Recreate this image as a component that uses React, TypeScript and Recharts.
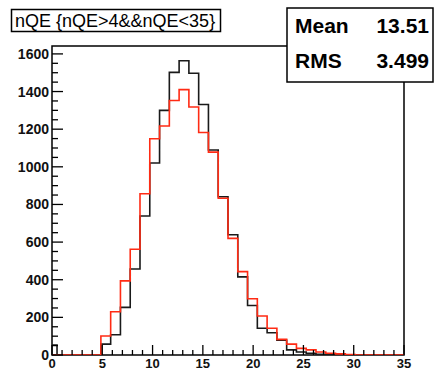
import React from 'react';
import { LineChart, Line, XAxis, YAxis, ReferenceArea } from 'recharts';

const X_MIN = 0;
const X_MAX = 35;
const N_BINS = 36;
const Y_MAX = 1642;
const FIRST_BIN = 5;

// bin contents starting at bin index FIRST_BIN
const blackCounts = [58, 108, 253, 457, 739, 1020, 1300, 1502, 1564, 1497, 1331, 1089, 841, 639, 415, 263, 142, 118, 78, 27, 16, 9, 4, 2, 1];
const redCounts = [101, 230, 394, 562, 857, 1149, 1217, 1352, 1410, 1318, 1182, 1078, 833, 620, 443, 299, 207, 142, 83, 58, 35, 27, 16, 9, 6, 3];
const blackSpike = { from: 0, to: 0.5, count: 53 };

const xTicks = [0, 1, 2, 3, 4, 5, 6, 7, 8, 9, 10, 11, 12, 13, 14, 15, 16, 17, 18, 19, 20, 21, 22, 23, 24, 25, 26, 27, 28, 29, 30, 31, 32, 33, 34, 35];
const xLabels = [0, 5, 10, 15, 20, 25, 30, 35];
const yTicks = [0, 50, 100, 150, 200, 250, 300, 350, 400, 450, 500, 550, 600, 650, 700, 750, 800, 850, 900, 950, 1000, 1050, 1100, 1150, 1200, 1250, 1300, 1350, 1400, 1450, 1500, 1550, 1600];
const yLabels = [0, 200, 400, 600, 800, 1000, 1200, 1400, 1600];

const title = 'nQE {nQE>4&&nQE<35}';
const statNames = ['Mean', 'RMS'];
const statValues = ['13.51', '3.499'];

const binWidth = (X_MAX - X_MIN) / N_BINS;

function histPoints(counts: number[], start: number, lead: { x: number; y: number }[]) {
  const pts = [...lead];
  counts.forEach((c, i) => pts.push({ x: X_MIN + (start + i) * binWidth, y: c }));
  pts.push({ x: X_MIN + (start + counts.length) * binWidth, y: 0 });
  pts.push({ x: X_MAX, y: 0 });
  return pts;
}

const blackData = histPoints(blackCounts, FIRST_BIN, [
  { x: blackSpike.from, y: blackSpike.count },
  { x: blackSpike.to, y: 0 },
]);
const redData = histPoints(redCounts, FIRST_BIN, [{ x: X_MIN, y: 0 }]);

const FONT = '"Liberation Sans", Arial, sans-serif';

const YTick = (props: any) => {
  const { x, y, payload } = props;
  const major = yLabels.includes(payload.value);
  return (
    <g>
      <line x1={x} x2={x + (major ? 11 : 6)} y1={y} y2={y} stroke="#000" strokeWidth={1.3} />
      {major && (
        <text x={x - 3} y={y} textAnchor="end" dominantBaseline="central" fontFamily={FONT} fontSize={14} fontWeight="bold" fill="#111">
          {payload.value}
        </text>
      )}
    </g>
  );
};

const XTick = (props: any) => {
  const { x, y, payload } = props;
  const major = xLabels.includes(payload.value);
  return (
    <g>
      <line x1={x} x2={x} y1={y} y2={y - (major ? 10 : 5)} stroke="#000" strokeWidth={1.3} />
      {major && (
        <text x={x} y={y + 8.5} textAnchor="middle" dominantBaseline="central" fontFamily={FONT} fontSize={13} fontWeight="bold" fill="#111">
          {payload.value}
        </text>
      )}
    </g>
  );
};

export default function App() {
  return (
    <div style={{ position: 'absolute', left: 0, top: 0, width: 434, height: 370, background: '#fff' }}>
      <LineChart width={434} height={370} margin={{ top: 46, right: 30, bottom: 0, left: 0 }}>
        <XAxis
          type="number"
          dataKey="x"
          domain={[X_MIN, X_MAX]}
          ticks={xTicks}
          interval={0}
          allowDataOverflow
          height={15}
          axisLine={false}
          tickLine={false}
          tickSize={0}
          tickMargin={0}
          tick={<XTick />}
        />
        <YAxis
          type="number"
          dataKey="y"
          domain={[0, Y_MAX]}
          ticks={yTicks}
          interval={0}
          allowDataOverflow
          width={52}
          axisLine={false}
          tickLine={false}
          tickSize={0}
          tickMargin={0}
          tick={<YTick />}
        />
        <Line data={blackData} dataKey="y" type="stepAfter" stroke="#1a1a1a" strokeWidth={1.6} dot={false} isAnimationActive={false} />
        <Line data={redData} dataKey="y" type="stepAfter" stroke="#ff2b14" strokeWidth={1.6} dot={false} isAnimationActive={false} />
        <ReferenceArea x1={X_MIN} x2={X_MAX} y1={0} y2={Y_MAX} fill="none" fillOpacity={0} stroke="#000" strokeWidth={1.5} ifOverflow="visible" />
      </LineChart>
      <svg width={434} height={370} style={{ position: 'absolute', left: 0, top: 0, pointerEvents: 'none' }}>
        <rect x={11.5} y={9.5} width={209} height={22} fill="#fff" stroke="#000" strokeWidth={1.5} />
        <text x={15} y={21} dominantBaseline="central" fontFamily={FONT} fontSize={18} fill="#000">
          {title}
        </text>
        <rect x={287} y={8} width={146} height={74} fill="#fff" stroke="#000" strokeWidth={1.5} />
        {statNames.map((n, i) => (
          <g key={n}>
            <text x={295} y={25 + i * 35} dominantBaseline="central" fontFamily={FONT} fontSize={21} fontWeight="bold" fill="#000">
              {n}
            </text>
            <text x={429} y={25 + i * 35} textAnchor="end" dominantBaseline="central" fontFamily={FONT} fontSize={21} fontWeight="bold" fill="#000">
              {statValues[i]}
            </text>
          </g>
        ))}
      </svg>
    </div>
  );
}
